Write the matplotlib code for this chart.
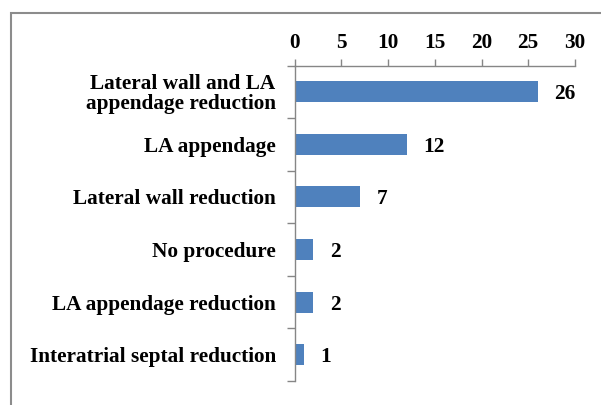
import matplotlib
matplotlib.use("Agg")
import matplotlib.pyplot as plt
from matplotlib.patches import Rectangle

categories = ["Lateral wall and LA\nappendage reduction", "LA appendage",
              "Lateral wall reduction", "No procedure",
              "LA appendage reduction", "Interatrial septal reduction"]
values = [26, 12, 7, 2, 2, 1]
xticks = [0, 5, 10, 15, 20, 25, 30]

plt.rcParams['font.family'] = ['Liberation Serif', 'DejaVu Serif']
plt.rcParams['font.weight'] = 'bold'
FS = 15.3

W, H = 601, 405
fig = plt.figure(figsize=(W/100, H/100), dpi=100)
fig.patches.append(Rectangle((11/W, -0.1), 1.2, 1 - 13/H + 0.1, transform=fig.transFigure,
                             fill=False, edgecolor='#8c8c8c', linewidth=1.5))

ax = fig.add_axes([294.5/W, 1 - 381/H, (575 - 294.5)/W, (381 - 65.5)/H])
n = len(categories)
ypos = list(range(n))
ax.barh(ypos, values, height=0.4, color='#4F81BD')
ax.set_ylim(n - 0.5, -0.5)
ax.set_xlim(0, 30)
ax.xaxis.tick_top()
ax.set_xticks(xticks)
ax.set_xticklabels([str(t) for t in xticks], fontsize=FS, fontweight='bold')
ax.tick_params(axis='x', direction='out', length=5, width=1, color='#868686', pad=4)
ax.set_yticks([i - 0.5 for i in range(n + 1)], minor=False)
ax.set_yticklabels([])
ax.set_yticks(ypos, minor=True)
ax.set_yticklabels(categories, minor=True, fontsize=FS, fontweight='bold', ha='right',
                   linespacing=1.0)
ax.tick_params(axis='y', which='major', direction='out', length=6, width=1, color='#868686')
ax.tick_params(axis='y', which='minor', length=0, pad=13.5)
for s in ['right', 'bottom']:
    ax.spines[s].set_visible(False)
for s in ['top', 'left']:
    ax.spines[s].set_color('#868686')
    ax.spines[s].set_linewidth(1)

for y, v in zip(ypos, values):
    ax.annotate(str(v), (v, y), xytext=(12, 0), textcoords='offset points',
                va='center_baseline', ha='left', fontsize=FS, fontweight='bold')

fig.savefig("out.png", dpi=100)
